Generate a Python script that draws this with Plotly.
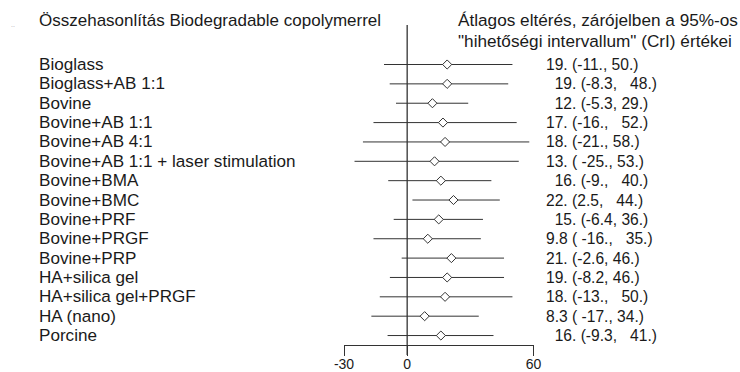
import plotly.graph_objects as go

W, H = 740, 372

categories = [
    "Bioglass", "Bioglass+AB 1:1", "Bovine", "Bovine+AB 1:1", "Bovine+AB 4:1",
    "Bovine+AB 1:1 + laser stimulation", "Bovine+BMA", "Bovine+BMC", "Bovine+PRF",
    "Bovine+PRGF", "Bovine+PRP", "HA+silica gel", "HA+silica gel+PRGF",
    "HA (nano)", "Porcine",
]
mean_diff = [19, 19, 12, 17, 18, 13, 16, 22, 15, 9.8, 21, 19, 18, 8.3, 16]
ci_low = [-11, -8.3, -5.3, -16, -21, -25, -9, 2.5, -6.4, -16, -2.6, -8.2, -13, -17, -9.3]
ci_high = [50, 48, 29, 52, 58, 53, 40, 44, 36, 35, 46, 46, 50, 34, 41]
value_labels = [
    "19. (-11., 50.)", "  19. (-8.3,   48.)", "  12. (-5.3, 29.)", "17. (-16.,   52.)",
    "18. (-21., 58.)", "13. ( -25., 53.)", "  16. (-9.,   40.)", "22. (2.5,   44.)",
    "  15. (-6.4, 36.)", "9.8 ( -16.,   35.)", "21. (-2.6, 46.)", "19. (-8.2, 46.)",
    "18. (-13.,   50.)", "8.3 ( -17., 34.)", "  16. (-9.3,   41.)",
]
x_ticks = [-30, 0, 60]
title_left = "Összehasonlítás Biodegradable copolymerrel"
title_right = ["Átlagos eltérés, zárójelben a 95%-os",
               "\"hihetőségi intervallum\" (CrI) értékei"]

FONT = "Liberation Sans, Arial, sans-serif"
TXT = "#1a1a1a"
LINE = "#333333"

rows = list(range(len(categories)))
err_plus = [h - m for h, m in zip(ci_high, mean_diff)]
err_minus = [m - l for m, l in zip(mean_diff, ci_low)]

row0_px, row_step = 64.5, 19.36
axis_px = 345
y_top = -row0_px / row_step
y_bot = (axis_px - row0_px) / row_step

fig = go.Figure()
fig.add_trace(go.Scatter(
    x=mean_diff, y=rows, mode="markers",
    marker=dict(symbol="diamond", size=7, color="white",
                line=dict(color=LINE, width=1)),
    error_x=dict(type="data", symmetric=False, array=err_plus,
                 arrayminus=err_minus, width=0, thickness=1, color=LINE),
    cliponaxis=False, hoverinfo="skip", showlegend=False,
))

annotations = []
for i, name in enumerate(categories):
    annotations.append(dict(x=37 / W, xref="paper", y=i, yref="y", text=name,
                            xanchor="left", yanchor="middle", showarrow=False,
                            font=dict(family=FONT, size=17.1, color=TXT)))
    annotations.append(dict(x=544 / W, xref="paper", y=i, yref="y",
                            text=value_labels[i].replace(" ", "\u00a0"),
                            xanchor="left", yanchor="middle", showarrow=False,
                            font=dict(family=FONT, size=15.6, color=TXT)))
annotations.append(dict(x=37 / W, xref="paper", y=1 - 21 / H, yref="paper",
                        text=title_left, xanchor="left", yanchor="middle",
                        showarrow=False, font=dict(family=FONT, size=17, color=TXT)))
for k, line in enumerate(title_right):
    annotations.append(dict(x=456 / W, xref="paper", y=1 - (20 + 21 * k) / H,
                            yref="paper", text=line, xanchor="left",
                            yanchor="middle", showarrow=False,
                            font=dict(family=FONT, size=17.2, color=TXT)))
annotations.append(dict(x=9 / W, xref="paper", y=1 - 25 / H, yref="paper",
                        text="..", xanchor="left", yanchor="middle",
                        showarrow=False, font=dict(family=FONT, size=7, color="#aaaaaa")))

shapes = [dict(type="line", xref="x", yref="paper", x0=0, x1=0,
               y0=(H - 355) / H, y1=(H - 25) / H,
               line=dict(color=LINE, width=1.3))]

fig.update_layout(
    width=W, height=H, margin=dict(l=0, r=0, t=0, b=0, pad=0),
    paper_bgcolor="white", plot_bgcolor="rgba(0,0,0,0)",
    xaxis=dict(domain=[344 / W, 533.5 / W], range=[x_ticks[0], x_ticks[-1]],
               tickvals=x_ticks, ticktext=[str(t) for t in x_ticks],
               showgrid=False, zeroline=False, showline=True, automargin=False,
               linecolor=LINE, linewidth=1.3, ticks="outside", ticklen=10,
               tickwidth=1.3, tickcolor=LINE, ticklabelstandoff=-4,
               tickfont=dict(family=FONT, size=14, color=TXT)),
    yaxis=dict(domain=[(H - axis_px) / H, 1], range=[y_bot, y_top], automargin=False,
               showgrid=False, zeroline=False, showline=False,
               showticklabels=False, ticks=""),
    annotations=annotations, shapes=shapes,
)

fig.write_html("out.html")
